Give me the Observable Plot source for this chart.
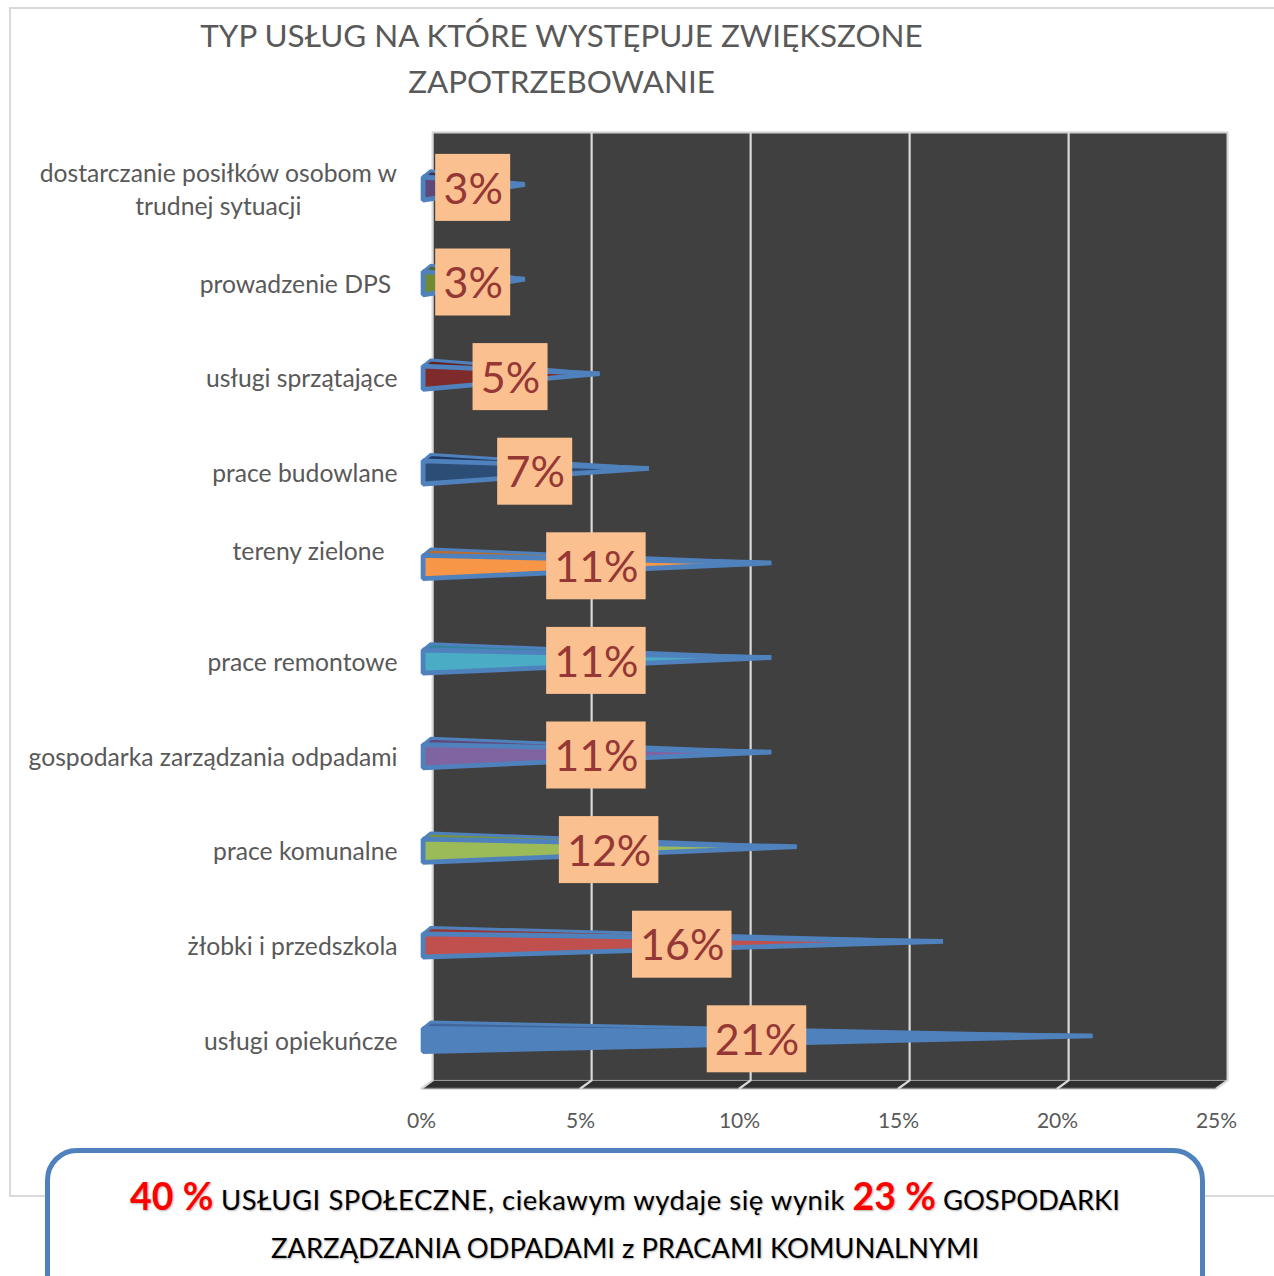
<!DOCTYPE html>
<html lang="pl">
<head>
<meta charset="utf-8">
<script src="https://cdn.jsdelivr.net/npm/d3@7"></script>
<script src="https://cdn.jsdelivr.net/npm/@observablehq/plot@0.6"></script>
<style>
html,body{margin:0;padding:0;background:#fff;width:1274px;height:1276px;overflow:hidden;font-family:Lato,sans-serif}
#page{position:relative;width:1274px;height:1276px;overflow:hidden}
#frame{position:absolute;left:9px;top:7px;width:1300px;height:1190px;border:2px solid #d9d9d9;box-sizing:border-box}
#chart{position:absolute;left:0;top:0}
#chart svg{display:block;background:transparent}
h1{position:absolute;left:0;top:12px;width:1123px;margin:0;font-weight:400;font-size:31.4px;line-height:46px;text-align:center;color:#595959}
#note{position:absolute;left:45px;top:1148px;width:1160px;height:220px;box-sizing:border-box;border:5px solid #4f81bd;border-radius:32px;background:#fff;text-align:center;color:#000;font-size:27.4px;line-height:48px;padding-top:19px;text-shadow:1px 1px 2px rgba(0,0,0,.3)}
#note b{color:#f00;font-size:37.5px;font-weight:700}
#note .wide{letter-spacing:.55px}
</style>
</head>
<body>
<div id="page">
  <div id="frame"></div>
  <div id="chart"></div>
  <h1 id="title"></h1>
  <div id="note"></div>
</div>
<script>
const titleLines = ["TYP USŁUG NA KTÓRE WYSTĘPUJE ZWIĘKSZONE", "ZAPOTRZEBOWANIE"];
const categories = [
  "dostarczanie posiłków osobom w\ntrudnej sytuacji",
  "prowadzenie DPS ",
  "usługi sprzątające",
  "prace budowlane",
  "tereny zielone  \n",
  "prace remontowe",
  "gospodarka zarządzania odpadami",
  "prace komunalne",
  "żłobki i przedszkola",
  "usługi opiekuńcze"
];
const values = [3.25, 3.25, 5.6, 7.15, 11.0, 11.0, 11.0, 11.8, 16.4, 21.1];
const valueLabels = ["3%", "3%", "5%", "7%", "11%", "11%", "11%", "12%", "16%", "21%"];
const faceColors = ["#5f497a", "#6f8a30", "#7f2b2b", "#2c4d75", "#f79646", "#4bacc6", "#8064a2", "#9bbb59", "#c0504d", "#4f81bd"];
const topColors = ["#3f3151", "#4f6228", "#632423", "#1f3864", "#b96d2f", "#31859c", "#5f497a", "#76923c", "#953735", "#3f659a"];
const xTicks = [0, 5, 10, 15, 20, 25];
const noteLines = [
  [["b", "40 %"], ["wide", " USŁUGI SPOŁECZNE, ciekawym wydaje się wynik "], ["b", "23 %"], ["", " GOSPODARKI"]],
  [["", "ZARZĄDZANIA ODPADAMI z PRACAMI KOMUNALNYMI"]]
];

document.getElementById("title").innerHTML = titleLines.join("<br>");
const note = document.getElementById("note");
noteLines.forEach((line, i) => {
  line.forEach(([tag, text]) => {
    const el = document.createElement(tag === "b" ? "b" : "span");
    if (tag === "wide") el.className = "wide";
    el.textContent = text;
    note.appendChild(el);
  });
  if (i < noteLines.length - 1) note.appendChild(document.createElement("br"));
});

// depth of the 3D box, in scale units
const backX = 0.35, wallTop = -0.05, wallBottom = 9.971, floorFront = 10.056;
// cone geometry, in scale units relative to the row centre
const rowH = 94.6, pxX = 25 / 795;
const coneFrontX = 0.05, coneBackX = 0.29;
const coneFrontTop = -7.5 / rowH, coneBackTop = -13.8 / rowH, coneBottom = 15.7 / rowH;

const rows = categories.map((c, i) => ({c, i, mid: i + 0.5, v: values[i], label: valueLabels[i], face: faceColors[i], top: topColors[i]}));

const topFaces = rows.flatMap(r => [
  {x: coneFrontX, y: r.mid + coneFrontTop, z: "t" + r.i, fill: r.top},
  {x: coneBackX, y: r.mid + coneBackTop, z: "t" + r.i, fill: r.top},
  {x: r.v, y: r.mid, z: "t" + r.i, fill: r.top}
]);
const frontFaces = rows.flatMap(r => [
  {x: coneFrontX, y: r.mid + coneFrontTop, z: "f" + r.i, fill: r.face},
  {x: r.v, y: r.mid, z: "f" + r.i, fill: r.face},
  {x: coneFrontX, y: r.mid + coneBottom, z: "f" + r.i, fill: r.face}
]);
const grid = xTicks.flatMap(t => [
  {x: t + backX, y: wallTop, z: t},
  {x: t + backX, y: wallBottom, z: t},
  {x: t, y: floorFront, z: t}
]);
const floor = [
  {x: backX, y: wallBottom},
  {x: 25 + backX, y: wallBottom},
  {x: 25, y: floorFront},
  {x: 0, y: floorFront}
];

// category labels: lines centred in a block whose right edge is fixed
const labelFont = "24.7px Lato";
const ctx = document.createElement("canvas").getContext("2d");
ctx.font = labelFont;
const labelRight = (397 - 421) * pxX, lineGap = 33 / rowH;
const labelLines = rows.flatMap(r => {
  const lines = r.c.split("\n");
  const block = d3.max(lines, l => ctx.measureText(l).width);
  return lines.map((l, k) => ({
    text: l,
    x: labelRight - (block / 2) * pxX,
    y: r.mid + 0.062 + (k - (lines.length - 1) / 2) * lineGap
  }));
});

const boxW = s => (s.length > 2 ? 99.5 : 75) * pxX;
const boxH = 67 / rowH, boxDY = 3.4 / rowH, boxDX = 0;
const coneStroke = {stroke: "#4f81bd", strokeLinejoin: "bevel", curve: "linear-closed"};

const chart = Plot.plot({
  width: 1274, height: 1276,
  marginLeft: 421, marginRight: 58, marginTop: 136.7, marginBottom: 193.3,
  style: {background: "transparent", fontFamily: "Lato, sans-serif"},
  x: {domain: [0, 25], range: [421, 1216], axis: null},
  y: {domain: [0, 10], range: [136.7, 1082.7], axis: null},
  color: {type: "identity"},
  marks: [
    Plot.rect([{}], {x1: backX, x2: 25 + backX, y1: wallTop, y2: wallBottom, fill: "#404040"}),
    Plot.line(floor, {x: "x", y: "y", curve: "linear-closed", fill: "#2f2f2f", stroke: "none"}),
    Plot.ruleY([wallTop], {x1: backX, x2: 25 + backX, stroke: "#d0d0d0", strokeWidth: 2}),
    Plot.ruleY([floorFront], {x1: 0, x2: 25, stroke: "#8c8c8c", strokeWidth: 1.5}),
    Plot.line(grid, {x: "x", y: "y", z: "z", stroke: "#d9d9d9", strokeWidth: 2.2}),
    Plot.axisX({ticks: xTicks, tickFormat: d => d + "%", tickSize: 0, tickPadding: 30, fontSize: 21, fill: "#595959", label: null, anchor: "bottom"}),
    Plot.text(labelLines, {x: "x", y: "y", text: "text", textAnchor: "middle", fontSize: 24.7, fill: "#595959", lineAnchor: "middle", style: "white-space:pre"}),
    Plot.line(topFaces, {x: "x", y: "y", z: "z", fill: "fill", strokeWidth: 3, ...coneStroke}),
    Plot.line(frontFaces, {x: "x", y: "y", z: "z", fill: "fill", strokeWidth: 4.8, ...coneStroke}),
    Plot.rect(rows, {
      x1: r => r.v / 2 + boxDX - boxW(r.label) / 2,
      x2: r => r.v / 2 + boxDX + boxW(r.label) / 2,
      y1: r => r.mid + boxDY - boxH / 2,
      y2: r => r.mid + boxDY + boxH / 2,
      fill: "#fac090"
    }),
    Plot.text(rows, {x: r => r.v / 2 + boxDX, y: r => r.mid + boxDY, text: "label", fontSize: 43, fill: "#953735", lineAnchor: "middle", dy: 2})
  ]
});
document.getElementById("chart").appendChild(chart);
</script>
</body>
</html>
